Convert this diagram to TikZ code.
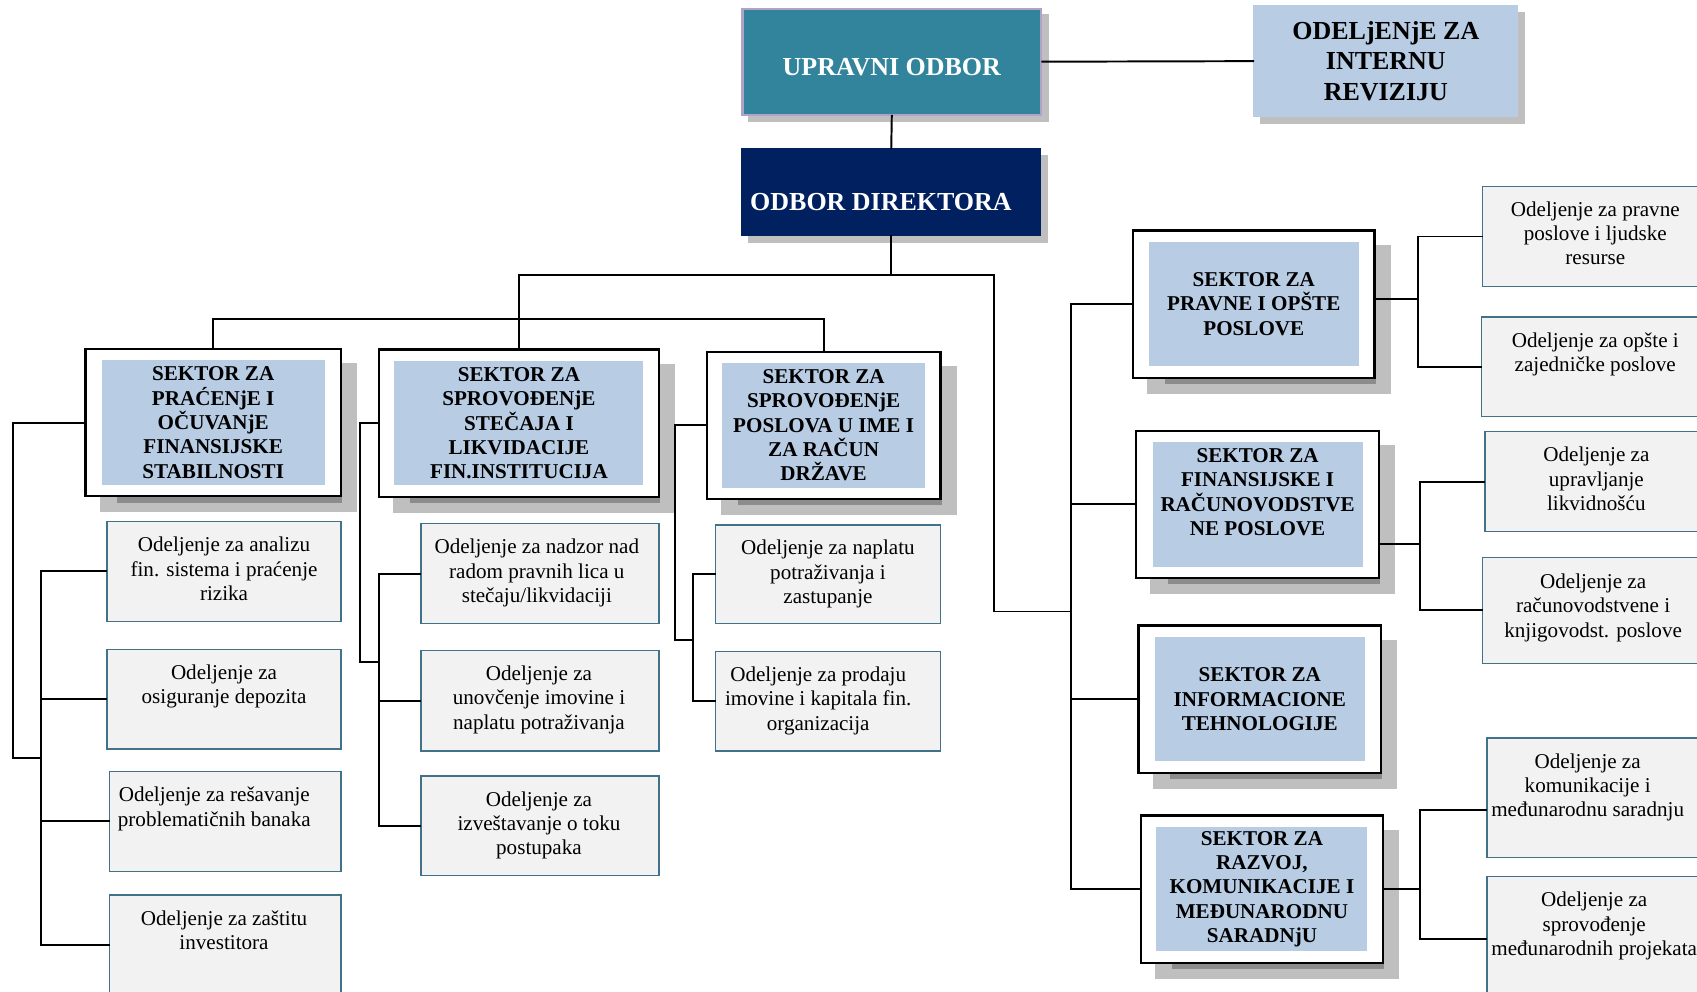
\documentclass[tikz,border=0pt]{standalone}
\usepackage{fontspec}
\setmainfont{Liberation Serif}
\usetikzlibrary{backgrounds}

\definecolor{upravni}{HTML}{31849B}
\definecolor{upravnilinija}{HTML}{B3A2C7}
\definecolor{direktori}{HTML}{002060}
\definecolor{sektorplava}{HTML}{B8CCE4}
\definecolor{odeljenjesiva}{HTML}{F2F2F2}
\definecolor{odeljenjelinija}{HTML}{41728A}
\definecolor{senka}{HTML}{BFBFBF}
\definecolor{tamnasenka}{HTML}{8C8C8C}

\begin{document}
\begin{tikzpicture}[x=1pt, y=-1pt,
  veza/.style={line width=1.8pt, line cap=rect},
  vrh/.style={inner sep=0, align=center, font=\fontsize{24}{28}\selectfont\bfseries},
  sekspolja/.style={draw, line width=2pt, fill=white, minimum height=136, inner sep=0},
  sekunutra/.style={fill=sektorplava, minimum height=115, inner sep=0, align=center, font=\fontsize{19.5}{22.5}\selectfont\bfseries},
  odeljenje/.style={draw=odeljenjelinija, line width=1.2pt, fill=odeljenjesiva, inner sep=0},
  odtekst/.style={anchor=north, inner sep=0, align=center, font=\fontsize{19.5}{22.5}\selectfont}]
  \useasboundingbox (0,0) rectangle (1568,916);
  \clip (0,0) rectangle (1568,916);

  % Top boxes
  \node[fill=upravni, draw=upravnilinija, line width=2pt, minimum width=276, minimum height=98, inner sep=0] (uo) at (824,57) {};
  \node[vrh, text=white] (uot) at (824,62) {UPRAVNI ODBOR};
  \node[vrh, fill=sektorplava, minimum width=245, minimum height=103] (rev) at (1280.5,56.5) {ODELjENjE ZA\\INTERNU\\REVIZIJU};
  \node[fill=direktori, minimum width=277, minimum height=81, inner sep=0] (od) at (823.5,177.5) {};
  \node[vrh, text=white] (odt) at (814,187) {ODBOR DIREKTORA};

  % Sectors left
  \node[sekspolja, minimum width=236] (s1) at (197,390.5) {};
  \node[sekunutra, minimum width=206] (s1i) at (s1) {SEKTOR ZA\\PRAĆENjE I\\OČUVANjE\\FINANSIJSKE\\STABILNOSTI};
  \node[sekspolja, minimum width=259] (s2) at (479.5,391) {};
  \node[sekunutra, minimum width=230] (s2i) at (s2) {SEKTOR ZA\\SPROVOĐENjE\\STEČAJA I\\LIKVIDACIJE\\FIN.INSTITUCIJA};
  \node[sekspolja, minimum width=216] (s3) at (761,393) {};
  \node[sekunutra, minimum width=187] (s3i) at (s3) {SEKTOR ZA\\SPROVOĐENjE\\POSLOVA U IME I\\ZA RAČUN\\DRŽAVE};

  % Sectors right
  \node[sekspolja, minimum width=223] (r1) at (1158.5,281) {};
  \node[sekunutra, minimum width=194] (r1i) at (r1) {SEKTOR ZA\\PRAVNE I OPŠTE\\POSLOVE};
  \node[sekspolja, minimum width=224] (r2) at (1162,466) {};
  \node[sekunutra, minimum width=194] (r2i) at (r2) {SEKTOR ZA\\FINANSIJSKE I\\RAČUNOVODSTVE\\NE POSLOVE\\ \mbox{}};
  \node[sekspolja, minimum width=224] (r3) at (1164,646) {};
  \node[sekunutra, minimum width=194] (r3i) at (r3) {SEKTOR ZA\\INFORMACIONE\\TEHNOLOGIJE};
  \node[sekspolja, minimum width=224] (r4) at (1166,821.5) {};
  \node[sekunutra, minimum width=195] (r4i) at (r4) {SEKTOR ZA\\RAZVOJ,\\KOMUNIKACIJE I\\MEĐUNARODNU\\SARADNjU};

  % Shadows
  \begin{scope}[on background layer]
    \foreach \s in {s1,s2,s3,r1,r2,r3,r4} {
      \fill[senka] ([shift={(14,14)}]\s.north west) rectangle ([shift={(14,14)}]\s.south east);
      \fill[tamnasenka] ([shift={(30,0)}]\s.south west) rectangle ([shift={(0,5)}]\s.south east);
    }
    \foreach \s in {uo,rev,od}
      \fill[senka] ([shift={(6,6)}]\s.north west) rectangle ([shift={(6,6)}]\s.south east);
  \end{scope}

  % Departments under sector 1
  \node[odeljenje, minimum width=216, minimum height=92] (o11) at (207,528) {};
  \node[odtekst] (o11t) at (207,496) {Odeljenje za analizu\\fin. sistema i praćenje\\rizika};
  \node[odeljenje, minimum width=216, minimum height=92] (o12) at (207,646) {};
  \node[odtekst] (o12t) at (207,614) {Odeljenje za\\osiguranje depozita};
  \node[odeljenje, minimum width=214, minimum height=92] (o13) at (208,759) {};
  \node[odtekst] (o13t) at (198,727) {Odeljenje za rešavanje\\problematičnih banaka};
  \node[odeljenje, minimum width=214, minimum height=92] (o14) at (208,873) {};
  \node[odtekst] (o14t) at (207,841) {Odeljenje za zaštitu\\investitora};

  % Departments under sector 2
  \node[odeljenje, minimum width=220, minimum height=92] (o21) at (499,530) {};
  \node[odtekst] (o21t) at (496,498) {Odeljenje za nadzor nad\\radom pravnih lica u\\stečaju/likvidaciji};
  \node[odeljenje, minimum width=220, minimum height=93] (o22) at (499,647.5) {};
  \node[odtekst] (o22t) at (498,615) {Odeljenje za\\unovčenje imovine i\\naplatu potraživanja};
  \node[odeljenje, minimum width=220, minimum height=92] (o23) at (499,763) {};
  \node[odtekst] (o23t) at (498,731) {Odeljenje za\\izveštavanje o toku\\postupaka};

  % Departments under sector 3
  \node[odeljenje, minimum width=208, minimum height=91] (o31) at (765,530.5) {};
  \node[odtekst] (o31t) at (765,499) {Odeljenje za naplatu\\potraživanja i\\zastupanje};
  \node[odeljenje, minimum width=208, minimum height=92] (o32) at (765,648) {};
  \node[odtekst] (o32t) at (756,616) {Odeljenje za prodaju\\imovine i kapitala fin.\\organizacija};

  % Departments right
  \node[odeljenje, minimum width=210, minimum height=93] (q11) at (1475,218.5) {};
  \node[odtekst] (q11t) at (1474,186) {Odeljenje za pravne\\poslove i ljudske\\resurse};
  \node[odeljenje, minimum width=211, minimum height=92] (q12) at (1474.5,339) {};
  \node[odtekst] (q12t) at (1474,307) {Odeljenje za opšte i\\zajedničke poslove};
  \node[odeljenje, minimum width=208, minimum height=92] (q21) at (1476,445) {};
  \node[odtekst] (q21t) at (1475,413) {Odeljenje za\\upravljanje\\likvidnošću};
  \node[odeljenje, minimum width=210, minimum height=98] (q22) at (1475,564) {};
  \node[odtekst] (q22t) at (1472,530) {Odeljenje za\\računovodstvene i\\knjigovodst. poslove};
  \node[odeljenje, minimum width=206, minimum height=110] (q41) at (1477,737) {};
  \node[odtekst] (q41t) at (1467,696) {Odeljenje za\\komunikacije i\\međunarodnu saradnju};
  \node[odeljenje, minimum width=206, minimum height=116] (q42) at (1477,868) {};
  \node[odtekst] (q42t) at (1473,824) {Odeljenje za\\sprovođenje\\međunarodnih projekata};

  % Connectors top
  \coordinate (t2) at (918,254);
  \coordinate (t3) at (0,295);
  \coordinate (rb) at (990,565);
  \draw[veza] (uo.east) -- (rev.west);
  \draw[veza] (uo.south) -- (od.north);
  \draw[veza] (od.south) -- (od.south |- t2);
  \draw[veza] (s2.north |- t2) -- (t2);
  \draw[veza] (s2.north |- t2) -- (s2.north);
  \draw[veza] (s1.north) |- (s3.north |- t3) -- (s3.north);
  \draw[veza] (t2) |- (rb);

  % Connectors to right sectors
  \draw[veza] (r1.west -| rb) -- (r4.west -| rb);
  \foreach \r in {r1,r2,r3,r4}
    \draw[veza] (\r.west) -- (\r.west -| rb);

  % Connectors sector 1
  \coordinate (a1) at (12,700);
  \coordinate (b1) at (38,700);
  \draw[veza] (s1.west) -| (a1) -- (b1);
  \draw[veza] (o11.west -| b1) -- (o14.west -| b1);
  \foreach \o in {o11,o12,o13,o14}
    \draw[veza] (\o.west) -- (\o.west -| b1);

  % Connectors sector 2
  \coordinate (a2) at (333,612);
  \coordinate (b2) at (350,612);
  \draw[veza] (s2.west) -| (a2) -- (b2);
  \draw[veza] (o21.west -| b2) -- (o23.west -| b2);
  \foreach \o in {o21,o22,o23}
    \draw[veza] (\o.west) -- (\o.west -| b2);

  % Connectors sector 3
  \coordinate (a3) at (624,591);
  \coordinate (b3) at (640,591);
  \draw[veza] (s3.west) -| (a3) -- (b3);
  \draw[veza] (o31.west -| b3) -- (o32.west -| b3);
  \foreach \o in {o31,o32}
    \draw[veza] (\o.west) -- (\o.west -| b3);

  % Connectors right departments
  \coordinate (c1) at (1310,276);
  \coordinate (c2) at (1312,503);
  \coordinate (c4) at (1312,821.5);
  \draw[veza] (c1 -| r1.east) -- (c1);
  \draw[veza] (q11.west -| c1) -- (q12.west -| c1);
  \foreach \q in {q11,q12}
    \draw[veza] (\q.west) -- (\q.west -| c1);
  \draw[veza] (c2 -| r2.east) -- (c2);
  \draw[veza] (q21.west -| c2) -- (q22.west -| c2);
  \foreach \q in {q21,q22}
    \draw[veza] (\q.west) -- (\q.west -| c2);
  \draw[veza] (r4.east) -- (c4);
  \draw[veza] ([shift={(0,11)}]q41.west -| c4) -- (q42.west -| c4);
  \draw[veza] ([shift={(0,11)}]q41.west) -- ([shift={(0,11)}]q41.west -| c4);
  \draw[veza] (q42.west) -- (q42.west -| c4);
\end{tikzpicture}
\end{document}
